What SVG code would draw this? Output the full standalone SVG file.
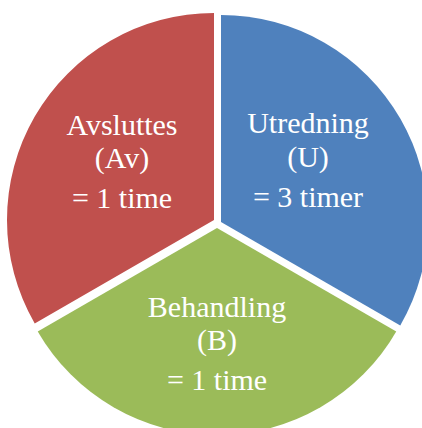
<svg xmlns="http://www.w3.org/2000/svg" width="422" height="428" viewBox="0 0 422 428">
<style>
text{font-family:"Liberation Serif","Times New Roman",serif;font-size:30px;fill:#ffffff;text-anchor:middle}
</style>
<rect width="422" height="428" fill="#ffffff"/>
<g id="avsluttes">
<path d="M214,220 L214,13 A207,207 0 0 0 34.73,323.5 Z" fill="#C0504D"/>
<text x="122" y="135">Avsluttes</text>
<text x="122" y="168">(Av)</text>
<text x="122" y="208">= 1 time</text>
</g>
<g id="utredning">
<path d="M221,222 L221,15 A207,207 0 0 1 400.27,325.5 Z" fill="#4F81BD"/>
<text x="308" y="133">Utredning</text>
<text x="308" y="167">(U)</text>
<text x="308" y="207">= 3 timer</text>
</g>
<g id="behandling">
<path d="M217,228 L396.27,331.5 A207,207 0 0 1 37.73,331.5 Z" fill="#9BBB59"/>
<text x="217" y="317">Behandling</text>
<text x="217" y="350">(B)</text>
<text x="217" y="390">= 1 time</text>
</g>
</svg>
